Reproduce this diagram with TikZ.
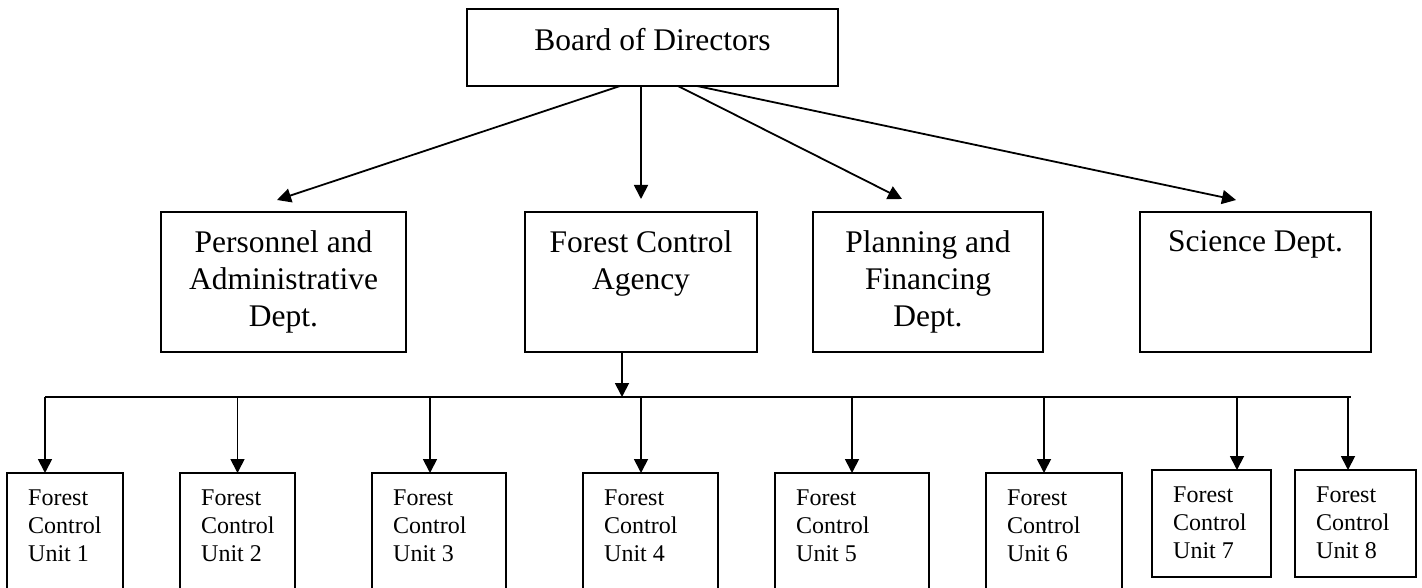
\documentclass[tikz,border=0pt]{standalone}
\usepackage{fontspec}
\setmainfont{Liberation Serif}
\usetikzlibrary{arrows.meta}
\tikzset{
 box/.style={draw, line width=2pt, inner sep=0pt, outer sep=0pt, anchor=north west},
 bigtext/.style={inner sep=0pt, anchor=north, align=center, font=\fontsize{31.5}{37}\selectfont},
 smalltext/.style={inner sep=0pt, anchor=north west, align=left, font=\fontsize{24}{28}\selectfont},
 arr/.style={line width=1.8pt, -{Triangle[length=14pt,width=14pt]}},
 busline/.style={line width=2.2pt}
}
\begin{document}
\begin{tikzpicture}[x=1pt,y=-1pt]
\clip (0,0) rectangle (1422,588);
\fill[white] (0,0) rectangle (1422,588);

% top
\node[box, minimum width=371pt, minimum height=77pt] (board) at (467,9) {};
\node[bigtext] (boardt) at ([yshift=-19.5pt]board.north) {Board of Directors};

% middle row
\node[box, minimum width=245pt, minimum height=140pt] (pers) at (161,212) {};
\node[box, minimum width=232pt, minimum height=140pt] (agency) at (525,212) {};
\node[box, minimum width=230pt, minimum height=140pt] (plan) at (813,212) {};
\node[box, minimum width=231pt, minimum height=140pt] (sci) at (1140,212) {};
\node[bigtext] (perst) at ([yshift=-18.5pt]pers.north) {Personnel and\\Administrative\\Dept.};
\node[bigtext] (agencyt) at ([yshift=-18.5pt]agency.north) {Forest Control\\Agency};
\node[bigtext] (plant) at ([yshift=-18.5pt]plan.north) {Planning and\\Financing\\Dept.};
\node[bigtext] (scit) at ([yshift=-18.5pt]sci.north) {Science Dept.};

\draw[arr] ([xshift=-32.5pt]board.south) -- ([xshift=-6.5pt,yshift=12pt]pers.north);
\draw[arr] ([xshift=-11.5pt]board.south) -- ([yshift=13pt]agency.north);
\draw[arr] ([xshift=25.5pt]board.south) -- ([xshift=-26pt,yshift=13pt]plan.north);
\draw[arr] ([xshift=44.5pt]board.south) -- ([xshift=-19.5pt,yshift=12pt]sci.north);

% bus
\coordinate (busL) at (45,397);
\coordinate (busR) at (1351,397);
\draw[busline] (busL) -- (busR);
\draw[arr] ([xshift=-19pt]agency.south) -- ([xshift=-19pt]agency.south |- busL);

% bottom row
\node[box, minimum width=116pt, minimum height=150pt] (u1) at (7,473) {};
\node[box, minimum width=115pt, minimum height=150pt] (u2) at (180,473) {};
\node[box, minimum width=134pt, minimum height=150pt] (u3) at (372,473) {};
\node[box, minimum width=135pt, minimum height=150pt] (u4) at (583,473) {};
\node[box, minimum width=154pt, minimum height=150pt] (u5) at (775,473) {};
\node[box, minimum width=136pt, minimum height=150pt] (u6) at (986,473) {};
\node[box, minimum width=119pt, minimum height=107pt] (u7) at (1152,470) {};
\node[box, minimum width=121pt, minimum height=107pt] (u8) at (1295,470) {};

\foreach \u/\n in {u1/1,u2/2,u3/3,u4/4,u5/5,u6/6,u7/7,u8/8}{
  \node[smalltext] (\u t) at ([xshift=21pt,yshift=-16.5pt]\u.north west) {Forest\\Control\\Unit \n};
}

\draw[arr] ([xshift=-20pt]u1.north |- busL) -- ([xshift=-20pt]u1.north);
\draw[arr] ([xshift=0pt]u2.north |- busL) -- ([xshift=0pt]u2.north);
\draw[arr] ([xshift=-9pt]u3.north |- busL) -- ([xshift=-9pt]u3.north);
\draw[arr] ([xshift=-9.5pt]u4.north |- busL) -- ([xshift=-9.5pt]u4.north);
\draw[arr] ([xshift=0pt]u5.north |- busL) -- ([xshift=0pt]u5.north);
\draw[arr] ([xshift=-10pt]u6.north |- busL) -- ([xshift=-10pt]u6.north);
\draw[arr] ([xshift=25.5pt]u7.north |- busL) -- ([xshift=25.5pt]u7.north);
\draw[arr] ([xshift=-7.5pt]u8.north |- busL) -- ([xshift=-7.5pt]u8.north);
\end{tikzpicture}
\end{document}
